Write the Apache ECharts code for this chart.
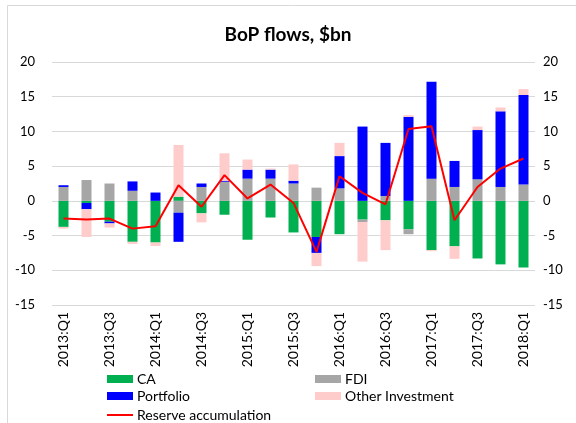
<!DOCTYPE html>
<html>
<head>
<meta charset="utf-8">
<script src="https://cdn.jsdelivr.net/npm/echarts@6/dist/echarts.min.js"></script>
<style>
  html, body { margin: 0; padding: 0; background: #fff; }
  #main { width: 576px; height: 423px; }
</style>
</head>
<body>
<div id="main"></div>
<script>
var quarters = ['2013:Q1', '2013:Q2', '2013:Q3', '2013:Q4',
    '2014:Q1', '2014:Q2', '2014:Q3', '2014:Q4',
    '2015:Q1', '2015:Q2', '2015:Q3', '2015:Q4',
    '2016:Q1', '2016:Q2', '2016:Q3', '2016:Q4',
    '2017:Q1', '2017:Q2', '2017:Q3', '2017:Q4',
    '2018:Q1'];
var caFlows = [-3.75, -0.3, -3.0, -5.9, -6.0, 0.6, -1.8, -2.0, -5.6, -2.4, -4.55,
    -5.2, -4.8, -2.7, -2.8, -4.1, -7.1, -6.55, -8.3, -9.15, -9.6];
var fdiFlows = [2.0, 3.0, 2.5, 1.45, 0.0, -1.7, 2.0, 2.75, 3.2, 3.2, 2.5,
    1.9, 1.8, -0.35, 0.7, -0.7, 3.2, 2.0, 3.1, 2.0, 2.35];
var portfolioFlows = [0.25, -0.9, -0.25, 1.35, 1.2, -4.2, 0.5, 0.15, 1.3, 1.3, 0.4,
    -2.3, 4.65, 10.7, 7.65, 12.1, 13.95, 3.75, 7.1, 10.9, 12.9];
var otherFlows = [-0.25, -4.0, -0.6, -0.3, -0.5, 7.45, -1.3, 3.95, 1.45, 0.15, 2.35,
    -1.9, 1.9, -5.7, -4.3, 0.25, -0.15, -1.8, 0.5, 0.55, 0.85];
var reserves = [-2.55, -2.7, -2.55, -4.0, -3.65, 2.25, -0.85, 3.7, 0.35, 2.35, -0.3,
    -7.35, 3.55, 1.15, -0.5, 10.35, 10.75, -2.8, 2.0, 4.65, 6.1];

var font = 'Lato, "Open Sans", sans-serif';
var myChart = echarts.init(document.getElementById('main'));

function barSeries(name, data, color) {
    return {
        name: name,
        type: 'bar',
        stack: 'bop',
        barWidth: 10,
        itemStyle: { color: color },
        data: data
    };
}

function oneLegend(name, left, top, isLine) {
    return {
        data: [name],
        left: left,
        top: top,
        itemWidth: 26,
        itemHeight: isLine ? 2 : 8,
        itemGap: 0,
        padding: 0,
        icon: 'rect',
        textStyle: { fontFamily: font, fontSize: 14, color: '#000', padding: [0, 0, 0, -1] }
    };
}

var yLabel = { fontFamily: font, fontSize: 13, color: '#000' };

option = {
    animation: false,
    title: {
        text: 'BoP flows, $bn',
        left: 'center',
        top: 20,
        textStyle: { fontFamily: font, fontSize: 19, fontWeight: 'bold', color: '#000' }
    },
    graphic: [{
        type: 'rect',
        shape: { x: 7.5, y: 5.5, width: 600, height: 430 },
        style: { fill: null, stroke: '#d9d9d9', lineWidth: 1 }
    }],
    legend: [
        oneLegend('CA', 107, 372, false),
        oneLegend('FDI', 315, 372, false),
        oneLegend('Portfolio', 107, 389, false),
        oneLegend('Other Investment', 315, 389, false),
        oneLegend('Reserve accumulation', 107, 408, true)
    ],
    grid: { left: 52, right: 41, top: 62, bottom: 118 },
    xAxis: {
        type: 'category',
        data: quarters,
        axisLine: { show: false },
        axisTick: { show: false },
        axisLabel: { interval: 1, rotate: 90, fontFamily: font, fontSize: 14, color: '#000', margin: 7 }
    },
    yAxis: [{
        type: 'value',
        min: -15, max: 20, interval: 5,
        axisLabel: Object.assign({ margin: 17 }, yLabel),
        splitLine: { lineStyle: { color: '#d9d9d9', width: 1 } }
    }, {
        type: 'value',
        position: 'right',
        min: -15, max: 20, interval: 5,
        axisLabel: Object.assign({ margin: 8 }, yLabel),
        splitLine: { show: false }
    }],
    series: [
        barSeries('CA', caFlows, '#00b050'),
        barSeries('FDI', fdiFlows, '#a6a6a6'),
        barSeries('Portfolio', portfolioFlows, '#0000ff'),
        barSeries('Other Investment', otherFlows, '#ffcccc'),
        {
            name: 'Reserve accumulation',
            type: 'line',
            data: reserves,
            symbol: 'none',
            z: 5,
            lineStyle: { color: '#ff0000', width: 2 },
            itemStyle: { color: '#ff0000' }
        }
    ]
};
myChart.setOption(option);
</script>
</body>
</html>
